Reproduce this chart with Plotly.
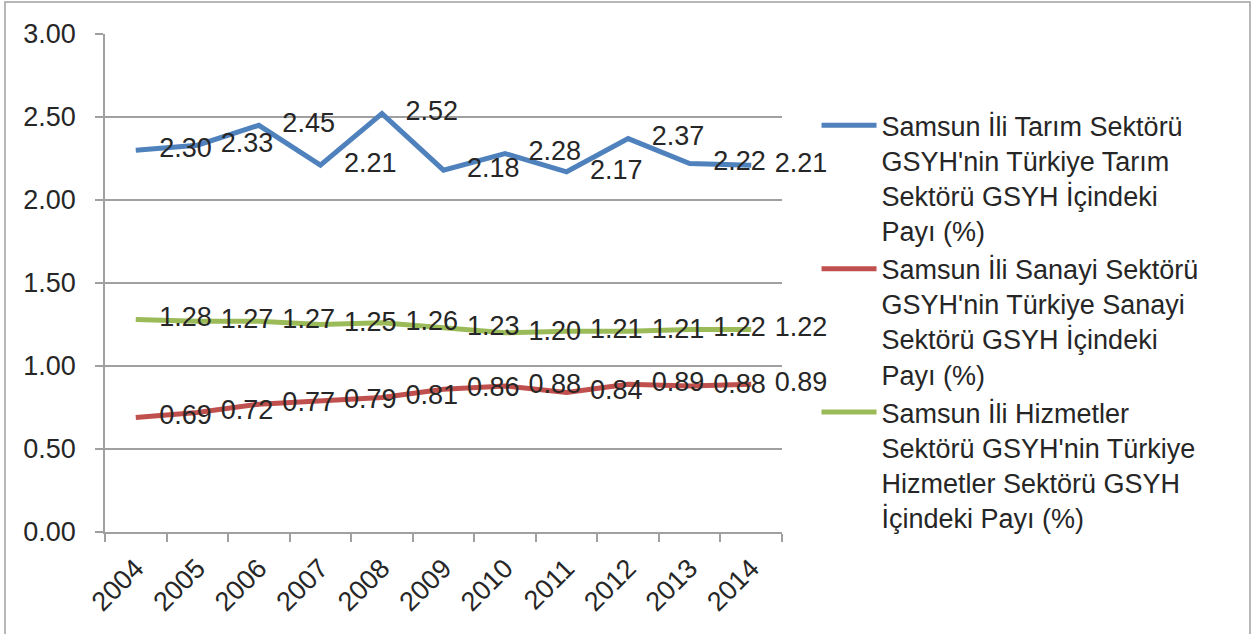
import plotly.graph_objects as go

years = ["2004", "2005", "2006", "2007", "2008", "2009", "2010", "2011", "2012", "2013", "2014"]
tarim = [2.30, 2.33, 2.45, 2.21, 2.52, 2.18, 2.28, 2.17, 2.37, 2.22, 2.21]
sanayi = [0.69, 0.72, 0.77, 0.79, 0.81, 0.86, 0.88, 0.84, 0.89, 0.88, 0.89]
hizmet = [1.28, 1.27, 1.27, 1.25, 1.26, 1.23, 1.20, 1.21, 1.21, 1.22, 1.22]
names = [
    "Samsun İli Tarım Sektörü<br>GSYH'nin Türkiye Tarım<br>Sektörü GSYH İçindeki<br>Payı (%)",
    "Samsun İli Sanayi Sektörü<br>GSYH'nin Türkiye Sanayi<br>Sektörü GSYH İçindeki<br>Payı (%)",
    "Samsun İli Hizmetler<br>Sektörü GSYH'nin Türkiye<br>Hizmetler Sektörü GSYH<br>İçindeki Payı (%)",
]
colors = ["#4F81BD", "#C0504D", "#9BBB59"]
yticks = [0, 0.5, 1.0, 1.5, 2.0, 2.5, 3.0]

FONT = "Arial, Liberation Sans, sans-serif"
TXT = "#262626"
GRID = "#A0A0A0"
FS = 27

fig = go.Figure()
series = [tarim, sanayi, hizmet]
for vals, col in zip(series, colors):
    fig.add_trace(go.Scatter(
        x=years, y=vals, mode="lines+markers+text",
        line=dict(color=col, width=5),
        marker=dict(size=36, color="rgba(0,0,0,0)"),
        text=[f"{v:.2f}" for v in vals], textposition="middle right",
        textfont=dict(family=FONT, size=FS, color=TXT),
        cliponaxis=False, showlegend=False, hoverinfo="skip",
    ))
for name, col in zip(names, colors):
    fig.add_trace(go.Scatter(
        x=[None], y=[None], mode="lines", name=name,
        line=dict(color=col, width=5),
    ))

fig.update_layout(
    width=1258, height=634,
    margin=dict(l=105, r=476, t=34, b=102),
    paper_bgcolor="white", plot_bgcolor="white",
    font=dict(family=FONT, size=FS, color=TXT),
    legend=dict(
        x=1.051, y=0.865, xanchor="left", yanchor="top",
        font=dict(family=FONT, size=FS, color=TXT),
        valign="top", itemwidth=55, tracegroupgap=0,
        bgcolor="rgba(0,0,0,0)",
    ),
    shapes=[dict(
        type="rect", xref="paper", yref="paper",
        x0=(5 - 105) / 677, x1=(1250 - 105) / 677,
        y0=(532 - 660) / 498, y1=(532 - 2) / 498,
        line=dict(color="#A0A0A0", width=1.5), fillcolor="rgba(0,0,0,0)",
        layer="below",
    )],
)
fig.update_xaxes(
    type="category", range=[-0.5, 10.5],
    showline=True, linecolor=GRID, linewidth=1.5,
    ticks="outside", tickson="boundaries", ticklen=8, tickcolor=GRID, tickwidth=1.5,
    tickangle=-45, showgrid=False, ticklabelstandoff=8,
    tickfont=dict(family=FONT, size=FS, color=TXT),
)
fig.update_yaxes(
    range=[0, 3], tickvals=yticks, ticktext=[f"{v:.2f}" for v in yticks],
    showline=True, linecolor=GRID, linewidth=1.5,
    ticks="outside", ticklen=8, tickcolor=GRID, tickwidth=1.5,
    showgrid=True, gridcolor=GRID, gridwidth=1.5, zeroline=False,
    ticklabelstandoff=14,
    tickfont=dict(family=FONT, size=FS, color=TXT),
)

fig.write_html("out.html", config={"displayModeBar": False},
               post_script="document.body.style.margin='0';")
